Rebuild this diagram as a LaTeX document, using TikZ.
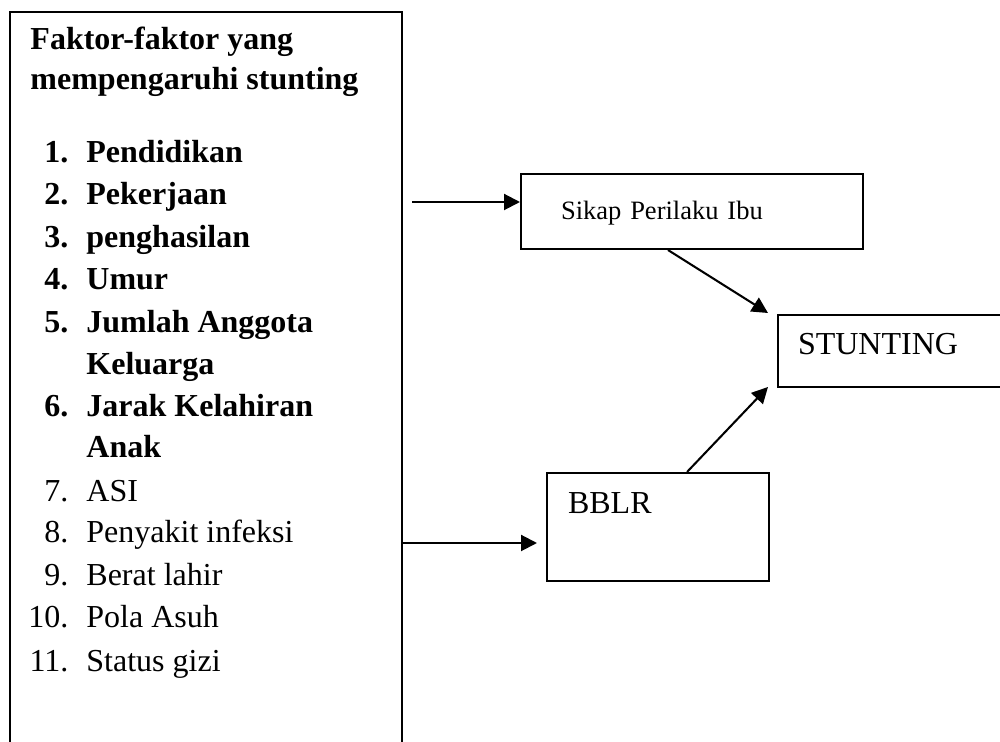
\documentclass[tikz,border=0pt]{standalone}
\usepackage{fontspec}
\setmainfont{Liberation Serif}
\usetikzlibrary{arrows.meta}
\newcommand{\butir}[2]{\makebox[16.6pt][r]{#1}\hspace{7.9pt}#2}

\begin{document}
\begin{tikzpicture}[x=0.4375pt, y=-0.4375pt]
\tikzstyle{kotak} = [draw, line width=0.9pt, anchor=north west, inner ysep=0pt, align=left]
\tikzstyle{baris} = [anchor=base west, inner sep=0pt, font=\fontsize{14}{17}\selectfont]
\tikzstyle{tebal} = [baris, font=\fontsize{14}{17}\selectfont\bfseries]
\tikzstyle{panah} = [line width=0.9pt, -{Triangle[length=7pt,width=7pt]}]
\clip (0,0) rectangle (1000,742);
\node[kotak, minimum width=171.5pt, minimum height=330pt] (faktor) at (9,11) {};
\node[tebal] (judul1) at (30,50) {Faktor-faktor yang};
\node[tebal] (judul2) at (30,90) {mempengaruhi stunting};
\node[tebal] (f1) at (30,163) {\butir{1.}{Pendidikan}};
\node[tebal] (f2) at (30,205) {\butir{2.}{Pekerjaan}};
\node[tebal] (f3) at (30,248) {\butir{3.}{penghasilan}};
\node[tebal] (f4) at (30,290) {\butir{4.}{Umur}};
\node[tebal] (f5) at (30,333) {\butir{5.}{Jumlah Anggota}};
\node[tebal] (f5b) at (30,375) {\butir{}{Keluarga}};
\node[tebal] (f6) at (30,417) {\butir{6.}{Jarak Kelahiran}};
\node[tebal] (f6b) at (30,458) {\butir{}{Anak}};
\node[baris] (f7) at (30,502) {\butir{7.}{ASI}};
\node[baris] (f8) at (30,543) {\butir{8.}{Penyakit infeksi}};
\node[baris] (f9) at (30,586) {\butir{9.}{Berat lahir}};
\node[baris] (f10) at (30,628) {\butir{10.}{Pola Asuh}};
\node[baris] (f11) at (30,672) {\butir{11.}{Status gizi}};
\node[kotak, inner xsep=17.5pt, text width=114.6pt, text height=19.7pt, text depth=13.1pt,
      font=\fontsize{11.6}{14}\selectfont] (sikap) at (520,173) {Sikap Perilaku Ibu};
\node[kotak, inner xsep=8.75pt, text width=93.2pt, text height=17.1pt, text depth=14.4pt,
      font=\fontsize{14}{17}\selectfont] (stunting) at (777,314) {STUNTING};
\node[kotak, inner xsep=9.2pt, text width=78.7pt, text height=17.9pt, text depth=29.3pt,
      font=\fontsize{14}{17}\selectfont] (bblr) at (546,472) {BBLR};
\coordinate (p1) at (412,202);
\coordinate (p2) at (537,543);
\coordinate (p3) at (768,313);
\coordinate (p4) at (768,387);
\draw[panah] (p1) -- (p1 -| sikap.west);
\draw[panah] (p2 -| faktor.east) -- (p2);
\draw[panah] ([xshift=-10.5pt]sikap.south) -- (p3);
\draw[panah] ([xshift=12.7pt]bblr.north) -- (p4);
\end{tikzpicture}
\end{document}
